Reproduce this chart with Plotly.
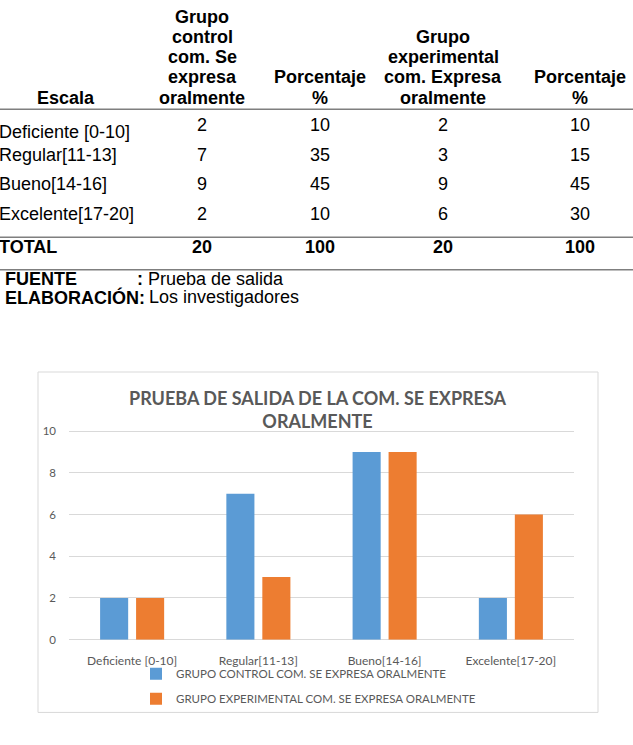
import plotly.graph_objects as go

W, H = 633, 745

# ---------------- data ----------------
escalas = ["Deficiente [0-10]", "Regular[11-13]", "Bueno[14-16]", "Excelente[17-20]"]
control = [2, 7, 9, 2]
control_pct = [10, 35, 45, 10]
experimental = [2, 3, 9, 6]
experimental_pct = [10, 15, 45, 30]
total_label = "TOTAL"
totals = [20, 100, 20, 100]

header_cols = [
    ["Escala"],
    ["Grupo", "control", "com. Se", "expresa", "oralmente"],
    ["Porcentaje", "%"],
    ["Grupo", "experimental", "com. Expresa", "oralmente"],
    ["Porcentaje", "%"],
]
fuente = ("FUENTE", ":", "Prueba de salida")
elaboracion = ("ELABORACIÓN:", "Los investigadores")

chart_title = "PRUEBA DE SALIDA DE LA COM. SE EXPRESA<br>ORALMENTE"
name_control = "GRUPO CONTROL COM. SE EXPRESA ORALMENTE"
name_exp = "GRUPO EXPERIMENTAL COM. SE EXPRESA ORALMENTE"
y_ticks = [0, 2, 4, 6, 8, 10]

# ---------------- helpers ----------------
def fx(x):
    return x / W

def fy(y):
    return 1 - y / H

TFONT = "Liberation Sans, Arial, sans-serif"
CFONT = "Lato, Carlito, Calibri, sans-serif"
GRAY = "#595959"

annotations = []

def txt(x, y, s, size=18, bold=False, anchor="center", color="#000000", family=TFONT):
    annotations.append(dict(
        x=fx(x), y=fy(y - 3), xref="paper", yref="paper", text=s, showarrow=False,
        xanchor=anchor, yanchor="middle",
        font=dict(family=family, size=size, color=color, weight="bold" if bold else "normal"),
    ))

# ---------------- table ----------------
col_x = [66, 202, 320, 443, 580]
line_gap = 20.5
bottom_line_y = 96
for cx, lines in zip(col_x, header_cols):
    n = len(lines)
    for i, ln in enumerate(lines):
        y = bottom_line_y - (n - 1 - i) * line_gap
        txt(cx, y, ln, bold=True)

row_y_vals = [124, 154, 184, 214]
row_y_labels = [131, 154, 184, 214]
for i in range(len(escalas)):
    txt(-3, row_y_labels[i], escalas[i], anchor="left")
    vals = [control[i], control_pct[i], experimental[i], experimental_pct[i]]
    for cx, v in zip(col_x[1:], vals):
        txt(cx, row_y_vals[i], str(v))

txt(-3, 248, total_label, bold=True, anchor="left")
for cx, v in zip(col_x[1:], totals):
    txt(cx, 248, str(v), bold=True)

txt(3, 280, fuente[0], bold=True, anchor="left")
txt(135, 280, fuente[1], bold=True, anchor="left")
txt(146, 280, fuente[2], anchor="left")
txt(3, 299, elaboracion[0], bold=True, anchor="left")
txt(147, 299, elaboracion[1], anchor="left")

shapes = []
for yl in [105, 235, 268]:
    shapes.append(dict(type="line", xref="paper", yref="paper",
                       x0=0, x1=1, y0=fy(yl), y1=fy(yl),
                       line=dict(color="#7f7f7f", width=1.6)))

# chart frame
shapes.append(dict(type="rect", xref="paper", yref="paper",
                   x0=fx(38), x1=fx(598), y0=fy(718), y1=fy(372),
                   line=dict(color="#d9d9d9", width=1), fillcolor="rgba(0,0,0,0)", layer="below"))

# chart title
annotations.append(dict(
    x=fx(318), y=fy(410), xref="paper", yref="paper", text=chart_title, showarrow=False,
    xanchor="center", yanchor="middle",
    font=dict(family=CFONT, size=18, color=GRAY, weight="bold"),
))

# ---------------- chart ----------------
fig = go.Figure()
fig.add_trace(go.Bar(x=escalas, y=control, name=name_control,
                     marker=dict(color="#5b9bd5", line=dict(width=0)), legendgroup="a"))
fig.add_trace(go.Bar(x=escalas, y=experimental, name=name_exp,
                     marker=dict(color="#ed7d31", line=dict(width=0)), legendgroup="b"))

fig.update_layout(
    width=W, height=H,
    margin=dict(l=0, r=0, t=0, b=0),
    paper_bgcolor="white", plot_bgcolor="white",
    barmode="group", bargap=0.43, bargroupgap=0.22,
    showlegend=True,
    legend=dict(orientation="v", x=fx(136), xanchor="left", y=fy(664), yanchor="top",
                font=dict(family=CFONT, size=11.5, color=GRAY), tracegroupgap=6,
                bgcolor="rgba(0,0,0,0)"),
    xaxis=dict(domain=[fx(69), fx(574)], anchor="y", showgrid=False, showline=False,
               ticks="", tickfont=dict(family=CFONT, size=12, color=GRAY),
               ticklabelstandoff=12),
    yaxis=dict(domain=[fy(644), fy(431)], range=[0, 10.05], tickvals=y_ticks,
               showgrid=True, gridcolor="#d9d9d9", gridwidth=1,
               zeroline=True, zerolinecolor="#d9d9d9", zerolinewidth=1,
               showline=False, ticks="", tickfont=dict(family=CFONT, size=11.5, color=GRAY),
               ticklabelstandoff=12),
    annotations=annotations,
    shapes=shapes,
)

fig.write_html("out.html")
